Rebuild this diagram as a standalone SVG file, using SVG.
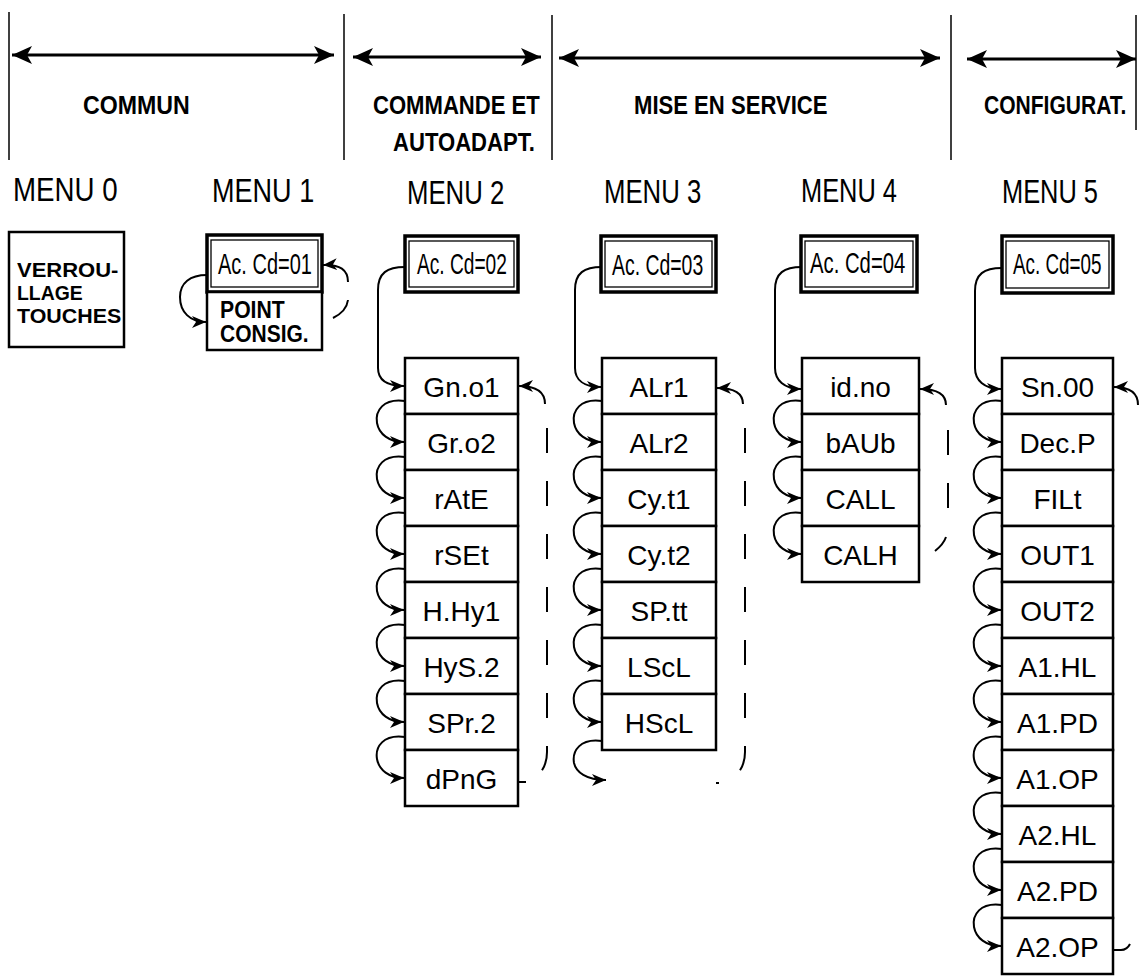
<svg xmlns="http://www.w3.org/2000/svg" width="1139" height="977" viewBox="0 0 1139 977">
<defs>
<marker id="ah" viewBox="0 0 14 12" refX="14" refY="6" markerWidth="14" markerHeight="12" markerUnits="userSpaceOnUse" orient="auto"><path d="M0,0 L14,6 L0,12 L4,6 Z" fill="#000"/></marker>
<marker id="hd" viewBox="0 0 20 18" refX="20" refY="9" markerWidth="20" markerHeight="18" markerUnits="userSpaceOnUse" orient="auto-start-reverse"><path d="M0,0 L20,9 L0,18 L5,9 Z" fill="#000"/></marker>
</defs>
<style>
text { font-family: "Liberation Sans", Arial, sans-serif; fill: #000; }
.hdr { font-weight: bold; font-size: 26px; }
.menu { font-size: 33px; }
.code { font-size: 29px; }
.cell { font-size: 28px; text-anchor: middle; }
.bold { font-weight: bold; font-size: 21px; }
.b0 { font-weight: bold; font-size: 20px; }
.box { fill: #fff; stroke: #000; stroke-width: 2.5; }
.outer { fill: #fff; stroke: #000; stroke-width: 3.5; }
.inner { fill: #fff; stroke: #000; stroke-width: 1.3; }
.conn { fill: none; stroke: #000; stroke-width: 2; }
.dash { fill: none; stroke: #000; stroke-width: 2; stroke-dasharray: 25 28; }
.sep { stroke: #000; stroke-width: 1.5; }
.harrow { fill: none; stroke: #000; stroke-width: 3; }
</style>
<rect width="1139" height="977" fill="#fff"/>

<g id="header">
<line class="sep" x1="9" y1="12" x2="9" y2="160"/>
<line class="sep" x1="344" y1="14" x2="344" y2="160"/>
<line class="sep" x1="552" y1="15" x2="552" y2="160"/>
<line class="sep" x1="951" y1="15" x2="951" y2="160"/>
<line class="sep" x1="1136" y1="15" x2="1136" y2="130"/>
<path class="harrow" d="M12 55 L334 55" marker-start="url(#hd)" marker-end="url(#hd)"/>
<path class="harrow" d="M353 57 L541 57" marker-start="url(#hd)" marker-end="url(#hd)"/>
<path class="harrow" d="M559 58 L940 58" marker-start="url(#hd)" marker-end="url(#hd)"/>
<path class="harrow" d="M967 59 L1136 59" marker-start="url(#hd)" marker-end="url(#hd)"/>
<text class="hdr" transform="translate(83,114) scale(0.89,1)">COMMUN</text>
<text class="hdr" transform="translate(373,114) scale(0.85,1)">COMMANDE ET</text>
<text class="hdr" transform="translate(393,151) scale(0.85,1)">AUTOADAPT.</text>
<text class="hdr" transform="translate(634,114) scale(0.85,1)">MISE EN SERVICE</text>
<text class="hdr" transform="translate(984,114) scale(0.81,1)">CONFIGURAT.</text>
</g>

<g id="menu-labels">
<text class="menu" transform="translate(13,201) scale(0.84,1)">MENU 0</text>
<text class="menu" transform="translate(212,202) scale(0.82,1)">MENU 1</text>
<text class="menu" transform="translate(407,204) scale(0.78,1)">MENU 2</text>
<text class="menu" transform="translate(604,203) scale(0.78,1)">MENU 3</text>
<text class="menu" transform="translate(801,202) scale(0.77,1)">MENU 4</text>
<text class="menu" transform="translate(1002,203) scale(0.77,1)">MENU 5</text>
</g>

<g id="verrouillage">
<rect class="box" x="9" y="232" width="115" height="115"/>
<text class="b0" transform="translate(17,277) scale(1.1,1)">VERROU-</text>
<text class="b0" transform="translate(17,300) scale(0.97,1)">LLAGE</text>
<text class="b0" transform="translate(17,323) scale(1.07,1)">TOUCHES</text>
</g>

<g id="m1-code">
<rect class="outer" x="207" y="235" width="115" height="57"/>
<rect class="inner" x="211" y="240" width="107" height="47"/>
<text class="code" transform="translate(218,274) scale(0.69,1)">Ac. Cd=01</text>
</g>
<g id="m1-point">
<rect class="box" x="207" y="292" width="115" height="58"/>
<text class="bold" transform="translate(220,318) scale(1.01,1.1)">POINT</text>
<text class="bold" transform="translate(220,342) scale(1.0,1.1)">CONSIG.</text>
</g>

<g id="m2-code">
<rect class="outer" x="405" y="236" width="113" height="56"/>
<rect class="inner" x="409" y="241" width="105" height="46"/>
<text class="code" transform="translate(417,274) scale(0.66,1)">Ac. Cd=02</text>
</g>
<g id="m3-code">
<rect class="outer" x="601" y="236" width="115" height="56"/>
<rect class="inner" x="605" y="241" width="107" height="46"/>
<text class="code" transform="translate(612,275) scale(0.67,1)">Ac. Cd=03</text>
</g>
<g id="m4-code">
<rect class="outer" x="801" y="236" width="116" height="56"/>
<rect class="inner" x="805" y="241" width="108" height="46"/>
<text class="code" transform="translate(810,273) scale(0.7,1)">Ac. Cd=04</text>
</g>
<g id="m5-code">
<rect class="outer" x="1002" y="236" width="111" height="57"/>
<rect class="inner" x="1006" y="241" width="103" height="47"/>
<text class="code" transform="translate(1013,274) scale(0.65,1)">Ac. Cd=05</text>
</g>

<g id="m2-Gn.o1"><rect class="box" x="405" y="358" width="113" height="56"/><text class="cell" x="461.5" y="397">Gn.o1</text></g>
<g id="m2-Gr.o2"><rect class="box" x="405" y="414" width="113" height="56"/><text class="cell" x="461.5" y="453">Gr.o2</text></g>
<g id="m2-rAtE"><rect class="box" x="405" y="470" width="113" height="56"/><text class="cell" x="461.5" y="509">rAtE</text></g>
<g id="m2-rSEt"><rect class="box" x="405" y="526" width="113" height="56"/><text class="cell" x="461.5" y="565">rSEt</text></g>
<g id="m2-H.Hy1"><rect class="box" x="405" y="582" width="113" height="56"/><text class="cell" x="461.5" y="621">H.Hy1</text></g>
<g id="m2-HyS.2"><rect class="box" x="405" y="638" width="113" height="56"/><text class="cell" x="461.5" y="677">HyS.2</text></g>
<g id="m2-SPr.2"><rect class="box" x="405" y="694" width="113" height="56"/><text class="cell" x="461.5" y="733">SPr.2</text></g>
<g id="m2-dPnG"><rect class="box" x="405" y="750" width="113" height="56"/><text class="cell" x="461.5" y="789">dPnG</text></g>

<g id="m3-ALr1"><rect class="box" x="602" y="358" width="114" height="56"/><text class="cell" x="659" y="397">ALr1</text></g>
<g id="m3-ALr2"><rect class="box" x="602" y="414" width="114" height="56"/><text class="cell" x="659" y="453">ALr2</text></g>
<g id="m3-Cy.t1"><rect class="box" x="602" y="470" width="114" height="56"/><text class="cell" x="659" y="509">Cy.t1</text></g>
<g id="m3-Cy.t2"><rect class="box" x="602" y="526" width="114" height="56"/><text class="cell" x="659" y="565">Cy.t2</text></g>
<g id="m3-SP.tt"><rect class="box" x="602" y="582" width="114" height="56"/><text class="cell" x="659" y="621">SP.tt</text></g>
<g id="m3-LScL"><rect class="box" x="602" y="638" width="114" height="56"/><text class="cell" x="659" y="677">LScL</text></g>
<g id="m3-HScL"><rect class="box" x="602" y="694" width="114" height="56"/><text class="cell" x="659" y="733">HScL</text></g>

<g id="m4-id.no"><rect class="box" x="802" y="358" width="117" height="56"/><text class="cell" x="860.5" y="397">id.no</text></g>
<g id="m4-bAUb"><rect class="box" x="802" y="414" width="117" height="56"/><text class="cell" x="860.5" y="453">bAUb</text></g>
<g id="m4-CALL"><rect class="box" x="802" y="470" width="117" height="56"/><text class="cell" x="860.5" y="509">CALL</text></g>
<g id="m4-CALH"><rect class="box" x="802" y="526" width="117" height="56"/><text class="cell" x="860.5" y="565">CALH</text></g>

<g id="m5-Sn.00"><rect class="box" x="1002" y="358" width="111" height="56"/><text class="cell" x="1057.5" y="397">Sn.00</text></g>
<g id="m5-Dec.P"><rect class="box" x="1002" y="414" width="111" height="56"/><text class="cell" x="1057.5" y="453">Dec.P</text></g>
<g id="m5-FILt"><rect class="box" x="1002" y="470" width="111" height="56"/><text class="cell" x="1057.5" y="509">FILt</text></g>
<g id="m5-OUT1"><rect class="box" x="1002" y="526" width="111" height="56"/><text class="cell" x="1057.5" y="565">OUT1</text></g>
<g id="m5-OUT2"><rect class="box" x="1002" y="582" width="111" height="56"/><text class="cell" x="1057.5" y="621">OUT2</text></g>
<g id="m5-A1.HL"><rect class="box" x="1002" y="638" width="111" height="56"/><text class="cell" x="1057.5" y="677">A1.HL</text></g>
<g id="m5-A1.PD"><rect class="box" x="1002" y="694" width="111" height="56"/><text class="cell" x="1057.5" y="733">A1.PD</text></g>
<g id="m5-A1.OP"><rect class="box" x="1002" y="750" width="111" height="56"/><text class="cell" x="1057.5" y="789">A1.OP</text></g>
<g id="m5-A2.HL"><rect class="box" x="1002" y="806" width="111" height="56"/><text class="cell" x="1057.5" y="845">A2.HL</text></g>
<g id="m5-A2.PD"><rect class="box" x="1002" y="862" width="111" height="56"/><text class="cell" x="1057.5" y="901">A2.PD</text></g>
<g id="m5-A2.OP"><rect class="box" x="1002" y="918" width="111" height="56"/><text class="cell" x="1057.5" y="957">A2.OP</text></g>

<g id="connectors">
<path class="conn" d="M207 275 C190 275 180 283 180 297 C180 312 190 322 206 322" marker-end="url(#ah)"/>
<path class="conn" d="M348 282 C348 270 340 264 323 265" marker-end="url(#ah)"/>
<path class="conn" d="M333 318 C341 314 347 308 348 300"/>
<path class="conn" d="M405 267 C387 267 378 273 378 290 L378 368 C378 380 387 386 404 386" marker-end="url(#ah)"/>
<path class="conn" d="M405 401 C383 398 375 411 377 423 C379 434 389 442 404 442" marker-end="url(#ah)"/>
<path class="conn" d="M405 457 C383 454 375 467 377 479 C379 490 389 498 404 498" marker-end="url(#ah)"/>
<path class="conn" d="M405 513 C383 510 375 523 377 535 C379 546 389 554 404 554" marker-end="url(#ah)"/>
<path class="conn" d="M405 569 C383 566 375 579 377 591 C379 602 389 610 404 610" marker-end="url(#ah)"/>
<path class="conn" d="M405 625 C383 622 375 635 377 647 C379 658 389 666 404 666" marker-end="url(#ah)"/>
<path class="conn" d="M405 681 C383 678 375 691 377 703 C379 714 389 722 404 722" marker-end="url(#ah)"/>
<path class="conn" d="M405 737 C383 734 375 747 377 759 C379 770 389 778 404 778" marker-end="url(#ah)"/>
<path class="conn" d="M545 404 C545 393 537 386 519 386" marker-end="url(#ah)"/>
<path class="dash" d="M547 428 L547 752 C547 762 544 768 540 773"/>
<path class="conn" d="M518 782 L526 782"/>
<path class="conn" d="M602 267 C584 267 575 273 575 290 L575 368 C575 380 584 387 601 387" marker-end="url(#ah)"/>
<path class="conn" d="M602 401 C580 398 572 411 574 423 C576 434 586 442 601 442" marker-end="url(#ah)"/>
<path class="conn" d="M602 457 C580 454 572 467 574 479 C576 490 586 498 601 498" marker-end="url(#ah)"/>
<path class="conn" d="M602 513 C580 510 572 523 574 535 C576 546 586 554 601 554" marker-end="url(#ah)"/>
<path class="conn" d="M602 569 C580 566 572 579 574 591 C576 602 586 610 601 610" marker-end="url(#ah)"/>
<path class="conn" d="M602 625 C580 622 572 635 574 647 C576 658 586 666 601 666" marker-end="url(#ah)"/>
<path class="conn" d="M602 681 C580 678 572 691 574 703 C576 714 586 722 601 722" marker-end="url(#ah)"/>
<path class="conn" d="M602 741 C580 738 572 751 574 763 C576 772 586 780 606 780" marker-end="url(#ah)"/>
<path class="conn" d="M743 404 C743 394 736 388 717 388" marker-end="url(#ah)"/>
<path class="dash" d="M745 428 L745 752 C745 762 742 768 738 773"/>
<path class="conn" d="M716 783 L719 783" stroke-width="3"/>
<path class="conn" d="M802 267 C784 267 775 273 775 290 L775 368 C775 380 784 389 801 389" marker-end="url(#ah)"/>
<path class="conn" d="M802 401 C780 398 772 411 774 423 C776 434 786 442 801 442" marker-end="url(#ah)"/>
<path class="conn" d="M802 457 C780 454 772 467 774 479 C776 490 786 498 801 498" marker-end="url(#ah)"/>
<path class="conn" d="M802 513 C780 510 772 523 774 535 C776 546 786 554 801 554" marker-end="url(#ah)"/>
<path class="conn" d="M946 405 C946 395 938 389 920 389" marker-end="url(#ah)"/>
<path class="dash" d="M948 430 L948 510"/>
<path class="conn" d="M935 551 C940 547 944 543 946 537"/>
<path class="conn" d="M1002 268 C984 268 975 274 975 291 L975 368 C975 380 984 389 1001 389" marker-end="url(#ah)"/>
<path class="conn" d="M1002 401 C980 398 972 411 974 423 C976 434 986 442 1001 442" marker-end="url(#ah)"/>
<path class="conn" d="M1002 457 C980 454 972 467 974 479 C976 490 986 498 1001 498" marker-end="url(#ah)"/>
<path class="conn" d="M1002 513 C980 510 972 523 974 535 C976 546 986 554 1001 554" marker-end="url(#ah)"/>
<path class="conn" d="M1002 569 C980 566 972 579 974 591 C976 602 986 610 1001 610" marker-end="url(#ah)"/>
<path class="conn" d="M1002 625 C980 622 972 635 974 647 C976 658 986 666 1001 666" marker-end="url(#ah)"/>
<path class="conn" d="M1002 681 C980 678 972 691 974 703 C976 714 986 722 1001 722" marker-end="url(#ah)"/>
<path class="conn" d="M1002 737 C980 734 972 747 974 759 C976 770 986 778 1001 778" marker-end="url(#ah)"/>
<path class="conn" d="M1002 793 C980 790 972 803 974 815 C976 826 986 834 1001 834" marker-end="url(#ah)"/>
<path class="conn" d="M1002 849 C980 846 972 859 974 871 C976 882 986 890 1001 890" marker-end="url(#ah)"/>
<path class="conn" d="M1002 905 C980 902 972 915 974 927 C976 938 986 946 1001 946" marker-end="url(#ah)"/>
<path class="conn" d="M1138 405 C1138 394 1131 387 1114 387" marker-end="url(#ah)"/>
<path class="conn" d="M1114 950 L1121 950 C1125 950 1128 948 1130 944"/>
</g>
</svg>
